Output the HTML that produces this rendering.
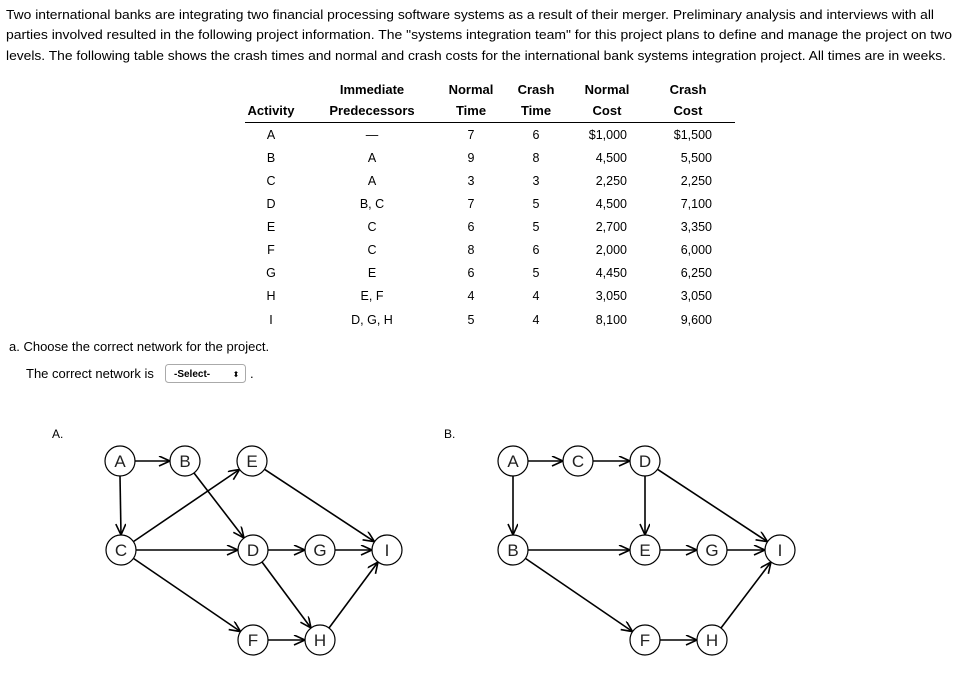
<!DOCTYPE html>
<html><head><meta charset="utf-8"><style>
html,body{margin:0;padding:0;background:#fff;}
svg{display:block;font-family:"Liberation Sans","DejaVu Sans",sans-serif;}
</style></head><body>
<svg width="964" height="693" viewBox="0 0 964 693" xmlns="http://www.w3.org/2000/svg">
<defs>
<marker id="ar" markerUnits="userSpaceOnUse" markerWidth="14" markerHeight="12" refX="12" refY="5" orient="auto" viewBox="0 0 14 12">
<path d="M1,0 L12,5 L1,10" fill="none" stroke="#000" stroke-width="1.6"/>
</marker>
</defs>
<g font-size="13" fill="#000">
<text x="6" y="19" textLength="928" lengthAdjust="spacingAndGlyphs">Two international banks are integrating two financial processing software systems as a result of their merger. Preliminary analysis and interviews with all</text>
<text x="6" y="39" textLength="946" lengthAdjust="spacingAndGlyphs">parties involved resulted in the following project information. The "systems integration team" for this project plans to define and manage the project on two</text>
<text x="6" y="60" textLength="940" lengthAdjust="spacingAndGlyphs">levels. The following table shows the crash times and normal and crash costs for the international bank systems integration project. All times are in weeks.</text>
</g>
<g font-size="13" font-weight="bold" text-anchor="middle">
<text x="372" y="94">Immediate</text><text x="471" y="94">Normal</text><text x="536" y="94">Crash</text><text x="607" y="94">Normal</text><text x="688" y="94">Crash</text>
<text x="271" y="115">Activity</text><text x="372" y="115">Predecessors</text><text x="471" y="115">Time</text><text x="536" y="115">Time</text><text x="607" y="115">Cost</text><text x="688" y="115">Cost</text>
</g>
<line x1="245" y1="122.5" x2="735" y2="122.5" stroke="#000" stroke-width="1"/>
<g font-size="12.5" text-anchor="middle">
<text x="271" y="139">A</text><text x="372" y="139">—</text><text x="471" y="139">7</text><text x="536" y="139">6</text>
<text x="271" y="162">B</text><text x="372" y="162">A</text><text x="471" y="162">9</text><text x="536" y="162">8</text>
<text x="271" y="185">C</text><text x="372" y="185">A</text><text x="471" y="185">3</text><text x="536" y="185">3</text>
<text x="271" y="208">D</text><text x="372" y="208">B, C</text><text x="471" y="208">7</text><text x="536" y="208">5</text>
<text x="271" y="231">E</text><text x="372" y="231">C</text><text x="471" y="231">6</text><text x="536" y="231">5</text>
<text x="271" y="254">F</text><text x="372" y="254">C</text><text x="471" y="254">8</text><text x="536" y="254">6</text>
<text x="271" y="277">G</text><text x="372" y="277">E</text><text x="471" y="277">6</text><text x="536" y="277">5</text>
<text x="271" y="300">H</text><text x="372" y="300">E, F</text><text x="471" y="300">4</text><text x="536" y="300">4</text>
<text x="271" y="324">I</text><text x="372" y="324">D, G, H</text><text x="471" y="324">5</text><text x="536" y="324">4</text>
</g>
<g font-size="12.5" text-anchor="end">
<text x="627" y="139">$1,000</text><text x="712" y="139">$1,500</text>
<text x="627" y="162">4,500</text><text x="712" y="162">5,500</text>
<text x="627" y="185">2,250</text><text x="712" y="185">2,250</text>
<text x="627" y="208">4,500</text><text x="712" y="208">7,100</text>
<text x="627" y="231">2,700</text><text x="712" y="231">3,350</text>
<text x="627" y="254">2,000</text><text x="712" y="254">6,000</text>
<text x="627" y="277">4,450</text><text x="712" y="277">6,250</text>
<text x="627" y="300">3,050</text><text x="712" y="300">3,050</text>
<text x="627" y="324">8,100</text><text x="712" y="324">9,600</text>
</g>
<text x="9" y="351" font-size="13">a. Choose the correct network for the project.</text>
<text x="26" y="378" font-size="13">The correct network is</text>
<rect x="165.5" y="364.5" width="80" height="18" rx="3" fill="#fff" stroke="#aaa"/>
<text x="174" y="377" font-size="10" font-weight="bold">-Select-</text>
<text x="236" y="377" font-size="8" text-anchor="middle">⬍</text>
<text x="250" y="378" font-size="13">.</text>
<text x="52" y="438" font-size="12">A.</text>
<text x="444" y="438" font-size="12">B.</text>
<g stroke="#000" stroke-width="1.6" marker-end="url(#ar)">
<line x1="135" y1="461" x2="170" y2="461"/>
<line x1="120" y1="476" x2="121" y2="535"/>
<line x1="194" y1="473" x2="244" y2="538"/>
<line x1="133.4" y1="541.6" x2="239.6" y2="469.4"/>
<line x1="136" y1="550" x2="238" y2="550"/>
<line x1="133.4" y1="558.4" x2="240.6" y2="631.6"/>
<line x1="264.5" y1="469.3" x2="374.5" y2="541.7"/>
<line x1="268" y1="550" x2="305" y2="550"/>
<line x1="335" y1="550" x2="372" y2="550"/>
<line x1="262" y1="562" x2="311" y2="628"/>
<line x1="268" y1="640" x2="305" y2="640"/>
<line x1="329" y1="628" x2="378" y2="562"/>
<line x1="528" y1="461" x2="563" y2="461"/>
<line x1="593" y1="461" x2="630" y2="461"/>
<line x1="513" y1="476" x2="513" y2="535"/>
<line x1="645" y1="476" x2="645" y2="535"/>
<line x1="657.5" y1="469.3" x2="767.5" y2="541.7"/>
<line x1="528" y1="550" x2="630" y2="550"/>
<line x1="660" y1="550" x2="697" y2="550"/>
<line x1="727" y1="550" x2="765" y2="550"/>
<line x1="525.4" y1="558.4" x2="632.6" y2="631.6"/>
<line x1="660" y1="640" x2="697" y2="640"/>
<line x1="721" y1="628" x2="771" y2="562"/>
</g>
<g fill="#fff" stroke="#000" stroke-width="1.2">
<circle cx="120" cy="461" r="15"/><circle cx="185" cy="461" r="15"/><circle cx="252" cy="461" r="15"/>
<circle cx="121" cy="550" r="15"/><circle cx="253" cy="550" r="15"/><circle cx="320" cy="550" r="15"/><circle cx="387" cy="550" r="15"/>
<circle cx="253" cy="640" r="15"/><circle cx="320" cy="640" r="15"/>
<circle cx="513" cy="461" r="15"/><circle cx="578" cy="461" r="15"/><circle cx="645" cy="461" r="15"/>
<circle cx="513" cy="550" r="15"/><circle cx="645" cy="550" r="15"/><circle cx="712" cy="550" r="15"/><circle cx="780" cy="550" r="15"/>
<circle cx="645" cy="640" r="15"/><circle cx="712" cy="640" r="15"/>
</g>
<g font-size="17" text-anchor="middle" fill="#222">
<text x="120" y="467">A</text><text x="185" y="467">B</text><text x="252" y="467">E</text>
<text x="121" y="556">C</text><text x="253" y="556">D</text><text x="320" y="556">G</text><text x="387" y="556">I</text>
<text x="253" y="646">F</text><text x="320" y="646">H</text>
<text x="513" y="467">A</text><text x="578" y="467">C</text><text x="645" y="467">D</text>
<text x="513" y="556">B</text><text x="645" y="556">E</text><text x="712" y="556">G</text><text x="780" y="556">I</text>
<text x="645" y="646">F</text><text x="712" y="646">H</text>
</g>
</svg>
</body></html>
